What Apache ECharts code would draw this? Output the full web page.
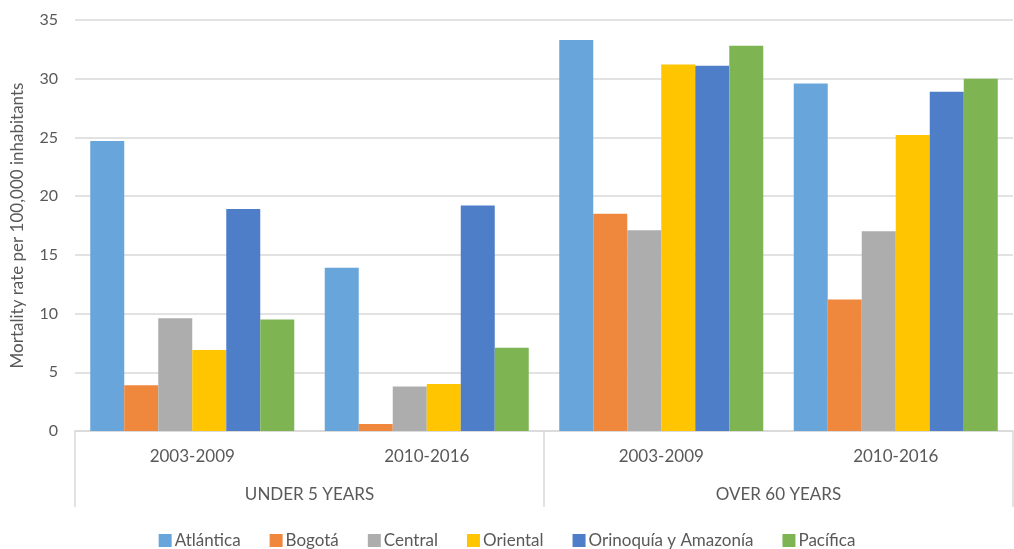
<!DOCTYPE html>
<html><head><meta charset="utf-8">
<script src="https://cdn.jsdelivr.net/npm/echarts@6/dist/echarts.min.js"></script>
<style>html,body{margin:0;padding:0;background:#fff}#c{width:1014px;height:549px}</style>
</head><body><div id="c"></div>
<script>
const periods = ['2003-2009','2010-2016','2003-2009','2010-2016'];
const ageGroups = ['UNDER 5 YEARS','OVER 60 YEARS'];
const regions = ['Atlántica','Bogotá','Central','Oriental','Orinoquía y Amazonía','Pacífica'];
const atlantica = [24.7, 13.9, 33.3, 29.6];
const bogota    = [3.9, 0.6, 18.5, 11.2];
const central   = [9.6, 3.8, 17.1, 17.0];
const oriental  = [6.9, 4.0, 31.2, 25.2];
const orinoquia = [18.9, 19.2, 31.1, 28.9];
const pacifica  = [9.5, 7.1, 32.8, 30.0];
const yTicks = [0, 5, 10, 15, 20, 25, 30, 35];

const seriesValues = [atlantica, bogota, central, oriental, orinoquia, pacifica];
const colors = ['#68A5DA','#EF873D','#ADADAD','#FFC500','#4F7EC8','#7EB552'];
const font = 'Lato';
const txt = '#595959';
const chart = echarts.init(document.getElementById('c'));
chart.setOption({
  animation: false,
  color: colors,
  textStyle: {fontFamily: font},
  grid: {left: 75, right: 1, top: 20, bottom: 118},
  legend: {
    top: 532, left: 'center', padding: 0, itemWidth: 13, itemHeight: 13, itemGap: 29,
    icon: 'rect',
    textStyle: {fontFamily: font, fontSize: 17, color: txt, padding: [0,0,0,-2]},
    data: regions
  },
  xAxis: [{
    type: 'category', data: periods, position: 'bottom',
    axisLine: {lineStyle: {color: '#D9D9D9', width: 1.5}},
    axisTick: {show: false},
    axisLabel: {fontFamily: font, fontSize: 17, color: txt, margin: 17}
  }, {
    type: 'category', data: ageGroups, position: 'bottom',
    axisLine: {show: false},
    axisTick: {show: true, length: 76, interval: 0, lineStyle: {color: '#D9D9D9', width: 1.5}},
    axisLabel: {fontFamily: font, fontSize: 17, color: txt, margin: 55}
  }],
  yAxis: {
    type: 'value', min: 0, max: 35, interval: 5,
    name: 'Mortality rate per 100,000 inhabitants',
    nameLocation: 'middle', nameGap: 49,
    nameTextStyle: {fontFamily: font, fontSize: 17, color: txt},
    axisLine: {show: false}, axisTick: {show: false},
    axisLabel: {fontFamily: font, fontSize: 16, color: txt, margin: 17,
      formatter: v => yTicks.includes(v) ? String(v) : ''},
    splitLine: {lineStyle: {color: '#D9D9D9', width: 1.5}}
  },
  series: regions.map((r, i) => ({
    name: r, type: 'bar', data: seriesValues[i], xAxisIndex: 0,
    barGap: '0%', barCategoryGap: '13%'
  }))
});
</script></body></html>
